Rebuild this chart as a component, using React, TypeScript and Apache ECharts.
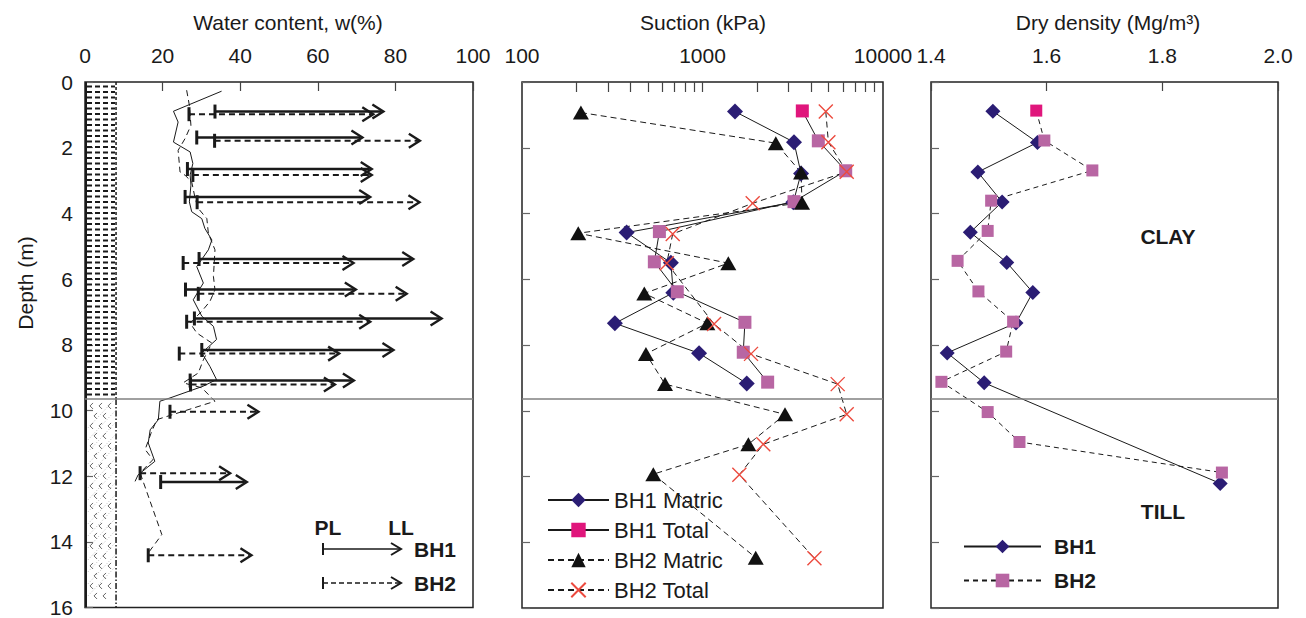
import { useEffect, useRef } from "react";
import * as echarts from "echarts";

const FONT = "'Liberation Sans', Arial, Helvetica, sans-serif";
const INK = "#1a1a1a";

// ---------- general ----------
const maxDepth = 16;
const depthInterval = 2;
const layerBoundaryDepth = 9.65;
const soilColumnWidth = 8; // % on water content axis
const soilLayerTop = [0, 9.65];
const soilLayerBottom = [9.65, 16];

// ---------- water content profiles ----------
const wcBH1Depth = [0.28, 0.89, 1.22, 1.83, 2.13, 2.48, 2.83, 3.14, 3.65, 3.95, 4.16, 4.46, 4.81, 5.11, 5.62, 6.12, 6.63, 7.13, 7.44, 7.84, 8.25, 8.66, 9.06, 9.26, 9.62, 9.72, 10.28, 10.59, 10.99, 11.55, 11.96, 12.16];
const wcBH1 = [35.2, 22.8, 24.0, 22.8, 27.1, 27.8, 27.1, 27.3, 26.9, 27.5, 30.1, 30.9, 32.7, 31.8, 28.8, 30.5, 27.9, 30.1, 33.1, 33.9, 30.1, 32.2, 33.9, 30.5, 21.9, 19.3, 18.9, 16.8, 16.3, 18.0, 13.7, 12.9];
const wcBH2Depth = [0.25, 0.71, 1.32, 1.72, 2.08, 2.74, 2.84, 3.04, 3.55, 3.85, 4.16, 4.61, 5.11, 5.92, 6.33, 6.68, 6.98, 7.34, 7.64, 7.95, 8.46, 8.86, 9.16, 9.31, 9.72, 10.28, 10.7, 11.19, 11.5, 11.9, 13.78, 14.34];
const wcBH2 = [26.2, 26.9, 27.3, 25.8, 24.0, 24.5, 25.8, 27.5, 28.4, 29.2, 31.4, 31.8, 33.5, 33.1, 33.5, 32.2, 30.1, 27.1, 28.8, 32.7, 30.5, 29.2, 25.3, 30.1, 33.5, 18.5, 17.0, 15.5, 17.5, 14.2, 19.8, 16.3];

// ---------- Atterberg limits (PL -> LL) ----------
const attBH1Depth = [0.9, 1.69, 2.65, 3.5, 5.39, 6.32, 7.2, 8.16, 9.09, 12.18];
const plBH1 = [33.5, 28.8, 26.4, 25.8, 29.4, 25.9, 28.2, 30.1, 27.1, 19.5];
const llBH1 = [76.9, 71.5, 73.9, 73.5, 84.6, 69.8, 91.9, 79.5, 69.3, 41.7];
const attBH2Depth = [0.98, 1.79, 2.83, 3.66, 5.51, 6.45, 7.3, 8.27, 9.21, 10.04, 11.91, 14.41];
const plBH2 = [26.8, 33.4, 27.8, 28.9, 25.3, 29.2, 26.2, 24.3, 27.2, 21.9, 14.2, 16.3];
const llBH2 = [74.3, 86.3, 73.9, 86.2, 69.2, 82.9, 73.5, 65.5, 64.4, 44.7, 37.4, 42.9];

// ---------- suction (kPa) ----------
const suctionTickValues = [200, 300, 400, 500, 600, 700, 800, 900, 1000, 2000, 3000, 4000, 5000, 6000, 7000, 8000, 9000];
const bh1MatricDepth = [0.9, 1.83, 2.78, 3.66, 4.58, 5.5, 6.41, 7.34, 8.25, 9.17];
const bh1Matric = [1514, 3213, 3515, 3185, 380, 668, 689, 327, 957, 1758];
const bh1TotalDepth = [0.88, 1.79, 2.7, 3.64, 4.55, 5.47, 6.38, 7.31, 8.22, 9.13];
const bh1Total = [3573, 4382, 6214, 3213, 577, 541, 725, 1718, 1682, 2296];
const bh2MatricDepth = [0.93, 1.86, 2.75, 3.67, 4.6, 5.51, 6.43, 7.34, 8.27, 9.19, 10.11, 11.02, 11.93, 14.47];
const bh2Matric = [212, 2548, 3515, 3560, 205, 1390, 476, 1064, 486, 620, 2865, 1795, 534, 1972];
const bh2TotalDepth = [0.9, 1.83, 2.73, 3.69, 4.62, 5.51, 7.36, 8.27, 9.19, 10.11, 11.02, 11.95, 14.49];
const bh2Total = [4820, 4982, 6295, 1897, 684, 634, 1159, 1857, 5610, 6295, 2172, 1600, 4170];

// ---------- dry density (Mg/m3) ----------
const ddBH1Depth = [0.89, 1.84, 2.74, 3.65, 4.57, 5.49, 6.4, 7.33, 8.24, 9.15, 12.21];
const ddBH1 = [1.507, 1.584, 1.481, 1.523, 1.468, 1.531, 1.576, 1.547, 1.428, 1.492, 1.9];
const ddBH2Depth = [0.87, 1.78, 2.69, 3.61, 4.53, 5.44, 6.37, 7.29, 8.2, 9.12, 10.04, 10.95, 11.88];
const ddBH2 = [1.582, 1.596, 1.679, 1.504, 1.498, 1.446, 1.482, 1.542, 1.53, 1.418, 1.498, 1.553, 1.903];

const NAVY = "#2b1d74";
const MAGENTA = "#e0167c";
const PINK = "#b866a3";
const RED = "#ec4a3e";

const pairs = (xs: number[], ds: number[]) => xs.map((x, i) => [x, ds[i]]);

function soilRender(params: any, api: any) {
  const p0 = api.coord([api.value(0), api.value(2)]);
  const p1 = api.coord([api.value(1), api.value(3)]);
  const kind = api.value(4);
  const w = p1[0] - p0[0];
  const children: any[] = [];
  if (kind === 0) {
    for (let y = Math.round(p0[1]) + 4.5; y < p1[1] - 1; y += 5.5) {
      children.push({ type: "line", shape: { x1: p0[0] + 2, y1: y, x2: p1[0] - 1, y2: y }, style: { stroke: INK, lineWidth: 1.8, lineDash: [5, 3] } });
    }
    children.push({ type: "line", shape: { x1: p1[0], y1: p0[1], x2: p1[0], y2: p1[1] }, style: { stroke: INK, lineWidth: 1.5, lineDash: [3, 2] } });
  } else {
    let r = 0;
    for (let y = p0[1] + 7; y < p1[1] - 3; y += 10) {
      for (let x = p0[0] + 5 + (r % 2) * 4; x < p1[0] - 5; x += 9) {
        children.push({ type: "polyline", shape: { points: [[x + 3, y - 3], [x, y], [x + 3, y + 3]] }, style: { stroke: "#555", lineWidth: 0.9, fill: "none" } });
      }
      r++;
    }
    for (let y = p0[1] + w; y <= p1[1]; y += 12) {
      children.push({ type: "line", shape: { x1: p0[0] + 1, y1: y, x2: p1[0] - 1, y2: y - w }, style: { stroke: "#aaa", lineWidth: 0.8, lineDash: [1, 2] } });
    }
    children.push({ type: "line", shape: { x1: p1[0], y1: p0[1], x2: p1[0], y2: p1[1] }, style: { stroke: INK, lineWidth: 1.5, lineDash: [6, 2, 1.5, 2] } });
  }
  children.push({ type: "line", shape: { x1: p0[0] + 1, y1: p0[1], x2: p0[0] + 1, y2: p1[1] }, style: { stroke: INK, lineWidth: 2 } });
  return { type: "group", children };
}

function arrowRender(dashed: boolean) {
  return (params: any, api: any) => {
    const d = api.value(2);
    const a = api.coord([api.value(0), d]);
    const b = api.coord([api.value(1), d]);
    const lineStyle: any = { stroke: INK, lineWidth: dashed ? 2 : 2.5 };
    if (dashed) lineStyle.lineDash = [6, 4];
    return {
      type: "group",
      children: [
        { type: "line", shape: { x1: a[0], y1: a[1], x2: b[0] - 2, y2: b[1] }, style: lineStyle },
        { type: "line", shape: { x1: a[0], y1: a[1] - 7, x2: a[0], y2: a[1] + 7 }, style: { stroke: INK, lineWidth: 3 } },
        { type: "polyline", shape: { points: [[b[0] - 11, b[1] - 7], [b[0], b[1]], [b[0] - 11, b[1] + 7]] }, style: { stroke: INK, lineWidth: 2.4, fill: "none" } },
      ],
    };
  };
}

const boundaryLine = {
  silent: true,
  symbol: "none",
  label: { show: false },
  emphasis: { disabled: true },
  lineStyle: { color: "#808080", width: 1.5, type: "solid" },
  data: [{ yAxis: layerBoundaryDepth }],
};

const axisText = { fontFamily: FONT, fontSize: 21, color: INK };

function yAxisFor(gridIndex: number, labels: boolean) {
  return {
    type: "value",
    gridIndex,
    min: 0,
    max: maxDepth,
    interval: depthInterval,
    inverse: true,
    axisLine: { show: false },
    axisTick: { show: true, inside: true, length: 8, lineStyle: { color: "#666", width: 1.2 } },
    axisLabel: { show: labels, ...axisText, margin: 12 },
    splitLine: { show: false },
  };
}

function buildOption() {
  const legendArrow = (y: number, dashed: boolean) => {
    const ls: any = { stroke: INK, lineWidth: 1.6 };
    if (dashed) ls.lineDash = [5, 3];
    return [
      { type: "line", shape: { x1: 323, y1: y, x2: 400, y2: y }, style: ls },
      { type: "line", shape: { x1: 323, y1: y - 6, x2: 323, y2: y + 6 }, style: { stroke: INK, lineWidth: 2 } },
      { type: "polyline", shape: { points: [[391, y - 6], [401, y], [391, y + 6]] }, style: { stroke: INK, lineWidth: 2, fill: "none" } },
    ];
  };
  const txt = (text: string, x: number, y: number, size: number, bold = false, extra: any = {}) => ({
    type: "text",
    x,
    y,
    ...extra,
    style: { text, fill: INK, font: `${bold ? "bold " : ""}${size}px ${FONT}`, align: "center", verticalAlign: "middle" },
  });

  return {
    animation: false,
    backgroundColor: "#fff",
    grid: [
      { left: 85, top: 82, width: 388, height: 526, show: true, borderColor: "#222", borderWidth: 1.5 },
      { left: 522, top: 82, width: 361, height: 526, show: true, borderColor: "#222", borderWidth: 1.5 },
      { left: 931, top: 82, width: 347, height: 526, show: true, borderColor: "#222", borderWidth: 1.5 },
    ],
    xAxis: [
      {
        type: "value", gridIndex: 0, position: "top", min: 0, max: 100, interval: 20,
        axisLine: { show: false },
        axisTick: { show: true, inside: true, length: 9, lineStyle: { color: "#444", width: 1.2 } },
        axisLabel: { ...axisText, margin: 16 },
        splitLine: { show: false },
      },
      {
        type: "log", gridIndex: 1, position: "top", min: 100, max: 10000, logBase: 10,
        axisLine: { show: false },
        axisTick: { show: false },
        axisLabel: { ...axisText, margin: 16, formatter: (v: number) => String(Math.round(v)) },
        splitLine: { show: false },
      },
      {
        type: "value", gridIndex: 2, position: "top", min: 1.4, max: 2.0, interval: 0.2,
        axisLine: { show: false },
        axisTick: { show: true, inside: true, length: 9, lineStyle: { color: "#444", width: 1.2 } },
        axisLabel: { ...axisText, margin: 16, formatter: (v: number) => v.toFixed(1) },
        splitLine: { show: false },
      },
      {
        type: "value", gridIndex: 1, position: "top", min: 2, max: 4,
        axisLine: { show: false },
        axisTick: { show: true, inside: true, length: 10, customValues: suctionTickValues.map((v) => Math.log10(v)), lineStyle: { color: "#444", width: 1.2 } },
        axisLabel: { show: false },
        splitLine: { show: false },
      },
    ],
    yAxis: [yAxisFor(0, true), yAxisFor(1, false), yAxisFor(2, false)],
    legend: [
      {
        data: ["BH1 Matric", "BH1 Total", "BH2 Matric", "BH2 Total"],
        orient: "vertical", left: 547, top: 489, padding: 0, itemWidth: 61, itemHeight: 18, itemGap: 8,
        selectedMode: false,
        textStyle: { fontFamily: FONT, fontSize: 22, color: INK },
      },
      {
        data: ["BH1", "BH2"],
        orient: "vertical", left: 963, top: 536, padding: 0, itemWidth: 77, itemHeight: 17, itemGap: 13,
        selectedMode: false,
        textStyle: { fontFamily: FONT, fontSize: 21, fontWeight: "bold", color: INK, padding: [0, 0, 0, 8] },
      },
    ],
    graphic: [
      txt("Water content, w(%)", 288, 22, 21),
      txt("Suction (kPa)", 703, 22, 21),
      txt("Dry density (Mg/m³)", 1108, 22, 21),
      txt("Depth (m)", 25, 283, 21, false, { rotation: Math.PI / 2 }),
      txt("PL", 328, 527, 21, true),
      txt("LL", 401, 527, 21, true),
      txt("BH1", 435, 549, 21, true),
      txt("BH2", 435, 583, 21, true),
      ...legendArrow(549, false),
      ...legendArrow(583, true),
      txt("CLAY", 1168, 236, 21, true),
      txt("TILL", 1163, 511, 21, true),
    ],
    series: [
      {
        name: "soil", type: "custom", xAxisIndex: 0, yAxisIndex: 0, silent: true, z: 1,
        renderItem: soilRender, encode: { x: [0, 1], y: [2, 3] },
        data: soilLayerTop.map((t, i) => [0, soilColumnWidth, t, soilLayerBottom[i], i]),
      },
      {
        name: "wBH1", type: "line", xAxisIndex: 0, yAxisIndex: 0, symbol: "none", silent: true, z: 2,
        lineStyle: { color: INK, width: 1 }, data: pairs(wcBH1, wcBH1Depth), markLine: boundaryLine,
      },
      {
        name: "wBH2", type: "line", xAxisIndex: 0, yAxisIndex: 0, symbol: "none", silent: true, z: 2,
        lineStyle: { color: INK, width: 1, type: [6, 4] }, data: pairs(wcBH2, wcBH2Depth),
      },
      {
        name: "attBH1", type: "custom", xAxisIndex: 0, yAxisIndex: 0, silent: true, z: 3,
        renderItem: arrowRender(false), encode: { x: [0, 1], y: 2 },
        data: plBH1.map((p, i) => [p, llBH1[i], attBH1Depth[i]]),
      },
      {
        name: "attBH2", type: "custom", xAxisIndex: 0, yAxisIndex: 0, silent: true, z: 3,
        renderItem: arrowRender(true), encode: { x: [0, 1], y: 2 },
        data: plBH2.map((p, i) => [p, llBH2[i], attBH2Depth[i]]),
      },
      {
        name: "BH1 Matric", type: "line", xAxisIndex: 1, yAxisIndex: 1, symbol: "diamond", symbolSize: 16,
        itemStyle: { color: NAVY }, lineStyle: { color: INK, width: 1 },
        data: pairs(bh1Matric, bh1MatricDepth), markLine: boundaryLine,
      },
      {
        name: "BH1 Total", type: "line", xAxisIndex: 1, yAxisIndex: 1, symbol: "rect", symbolSize: 13,
        itemStyle: { color: MAGENTA }, lineStyle: { color: INK, width: 1 },
        data: pairs(bh1Total, bh1TotalDepth).map((p, i) => (i === 0 ? p : { value: p, itemStyle: { color: PINK } })),
      },
      {
        name: "BH2 Matric", type: "line", xAxisIndex: 1, yAxisIndex: 1, symbol: "triangle", symbolSize: [16, 14],
        itemStyle: { color: "#111" }, lineStyle: { color: INK, width: 1, type: [6, 4] },
        data: pairs(bh2Matric, bh2MatricDepth),
      },
      {
        name: "BH2 Total", type: "line", xAxisIndex: 1, yAxisIndex: 1, symbol: "path://M0,0L10,10M10,0L0,10", symbolSize: 14,
        itemStyle: { color: RED, borderColor: RED, borderWidth: 1.4 }, lineStyle: { color: INK, width: 1, type: [6, 4] },
        data: pairs(bh2Total, bh2TotalDepth),
      },
      {
        name: "BH1", type: "line", xAxisIndex: 2, yAxisIndex: 2, symbol: "diamond", symbolSize: 15,
        itemStyle: { color: NAVY }, lineStyle: { color: INK, width: 1 },
        data: pairs(ddBH1, ddBH1Depth), markLine: boundaryLine,
      },
      {
        name: "BH2", type: "line", xAxisIndex: 2, yAxisIndex: 2, symbol: "rect", symbolSize: 12,
        itemStyle: { color: PINK }, lineStyle: { color: INK, width: 1, type: [5, 4] },
        data: pairs(ddBH2, ddBH2Depth).map((p, i) => (i === 0 ? { value: p, itemStyle: { color: MAGENTA } } : p)),
      },
    ],
  };
}

export default function App() {
  const ref = useRef<HTMLDivElement>(null);
  useEffect(() => {
    if (!ref.current) return;
    const chart = echarts.init(ref.current, null, { renderer: "svg" });
    chart.setOption(buildOption() as any);
    return () => chart.dispose();
  }, []);
  return <div ref={ref} style={{ position: "fixed", left: 0, top: 0, width: 1306, height: 618, background: "#fff" }} />;
}
